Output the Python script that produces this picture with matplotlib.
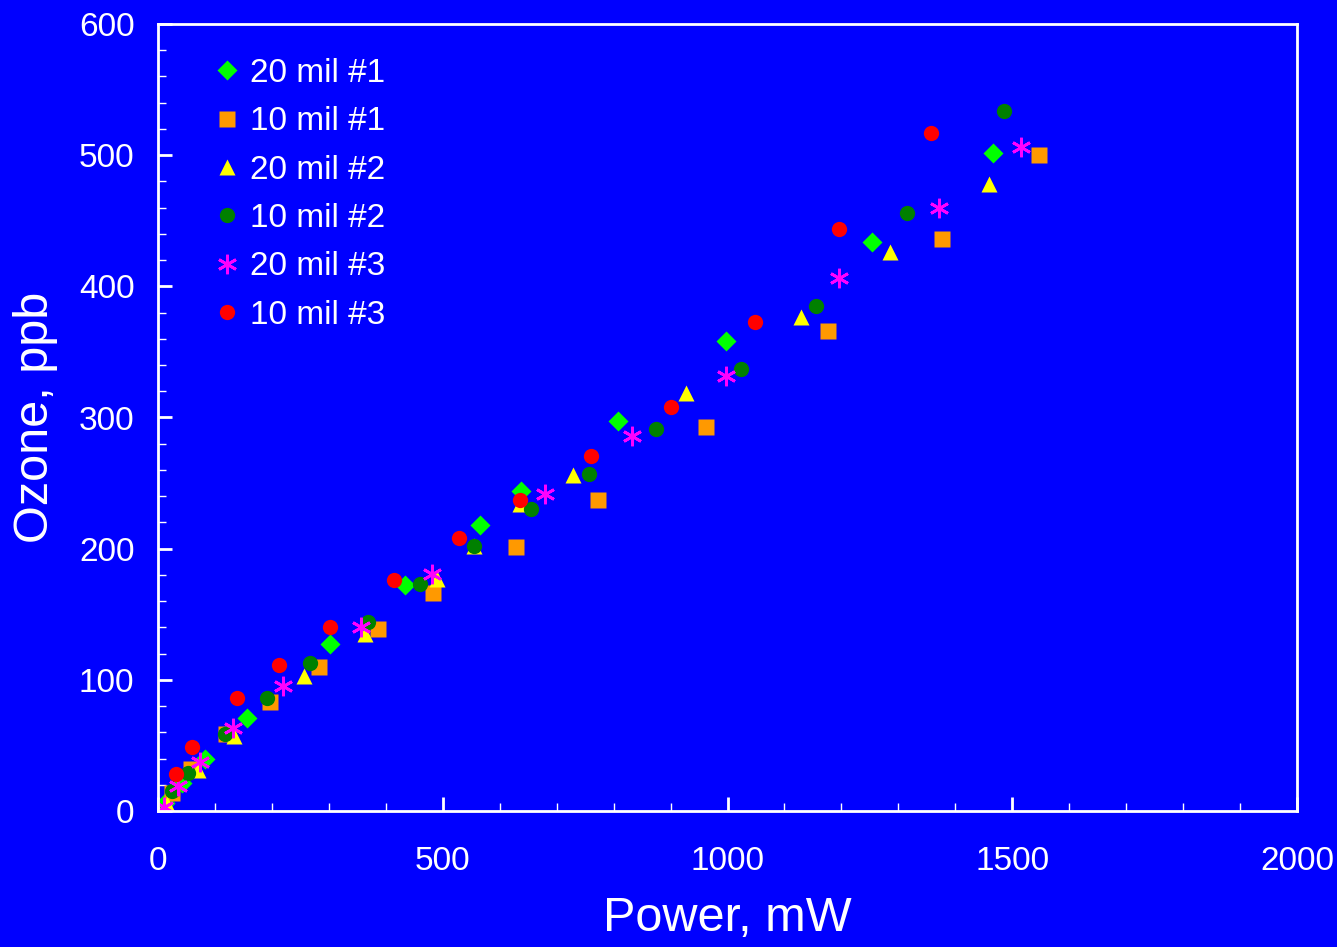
import numpy as np
import matplotlib.pyplot as plt
from matplotlib.ticker import MultipleLocator

plt.rcParams['font.family'] = ['Liberation Sans', 'DejaVu Sans']

# power (mW) / ozone (ppb) for each sample
x_20_1 = [12, 42, 82, 156, 302, 434, 565, 637, 808, 997, 1254, 1466]
y_20_1 = [6, 21, 40, 71, 127, 172, 218, 244, 297, 358, 434, 502]

x_10_1 = [25, 58, 119, 197, 283, 386, 483, 629, 773, 962, 1176, 1377, 1547]
y_10_1 = [14, 32, 59, 83, 110, 139, 166, 201, 237, 293, 366, 436, 500]

x_20_2 = [15, 70, 133, 256, 363, 490, 555, 636, 729, 927, 1129, 1285, 1459]
y_20_2 = [5, 31, 57, 103, 135, 177, 202, 234, 256, 319, 377, 426, 478]

x_10_2 = [24, 52, 118, 192, 267, 369, 460, 555, 655, 757, 875, 1024, 1156, 1315, 1485]
y_10_2 = [15, 29, 59, 86, 113, 144, 173, 202, 230, 257, 291, 337, 385, 456, 534]

x_20_3 = [11, 35, 74, 132, 219, 356, 481, 680, 832, 997, 1195, 1371, 1515]
y_20_3 = [3, 19, 37, 63, 95, 140, 181, 242, 286, 332, 406, 460, 506]

x_10_3 = [32, 60, 139, 212, 302, 414, 529, 636, 760, 901, 1048, 1195, 1357]
y_10_3 = [28, 49, 86, 111, 140, 176, 208, 237, 271, 308, 373, 444, 517]

fig = plt.figure(figsize=(13.37, 9.47), dpi=100)
fig.patch.set_facecolor('#0000ff')
ax = fig.add_axes([158/1337, 1 - 811/947, (1297-158)/1337, (811-24)/947])
ax.set_facecolor('#0000ff')

ax.plot(x_20_1, y_20_1, 'D', color='#00ff00', ms=10, mec='none', label='20 mil #1')
ax.plot(x_10_1, y_10_1, 's', color='#ff9900', ms=11, mec='none', label='10 mil #1')
ax.plot(x_20_2, y_20_2, '^', color='#ffff00', ms=12, mec='none', label='20 mil #2')
ax.plot(x_10_2, y_10_2, 'o', color='#008000', ms=11, mec='none', label='10 mil #2')
ax.plot(x_20_3, y_20_3, marker=(6, 2, 0), ls='none', color='#ff00ff', ms=14, mew=2, label='20 mil #3')
ax.plot(x_10_3, y_10_3, 'o', color='#ff0000', ms=11, mec='none', label='10 mil #3')

ax.set_xlim(0, 2000)
ax.set_ylim(0, 600)
ax.xaxis.set_major_locator(MultipleLocator(500))
ax.xaxis.set_minor_locator(MultipleLocator(100))
ax.yaxis.set_major_locator(MultipleLocator(100))
ax.yaxis.set_minor_locator(MultipleLocator(20))
ax.tick_params(which='both', direction='in', colors='white', labelsize=24, top=False, right=False)
ax.tick_params(which='major', length=10, width=2)
ax.tick_params(which='minor', length=6, width=1)
ax.tick_params(axis='x', which='major', pad=25)
ax.tick_params(axis='y', which='major', pad=17)
for s in ax.spines.values():
    s.set_color('white')
    s.set_linewidth(2)

ax.set_xlabel('Power, mW', color='white', fontsize=35, labelpad=14)
ax.set_ylabel('Ozone, ppb', color='white', fontsize=35, labelpad=15)

leg = ax.legend(loc='upper left', bbox_to_anchor=(0.046, 0.957), frameon=False,
                fontsize=24, labelcolor='white', handlelength=1.0, handletextpad=0.2,
                labelspacing=0.52, borderpad=0, borderaxespad=0)

fig.savefig('out.png', dpi=100, facecolor=fig.get_facecolor())
